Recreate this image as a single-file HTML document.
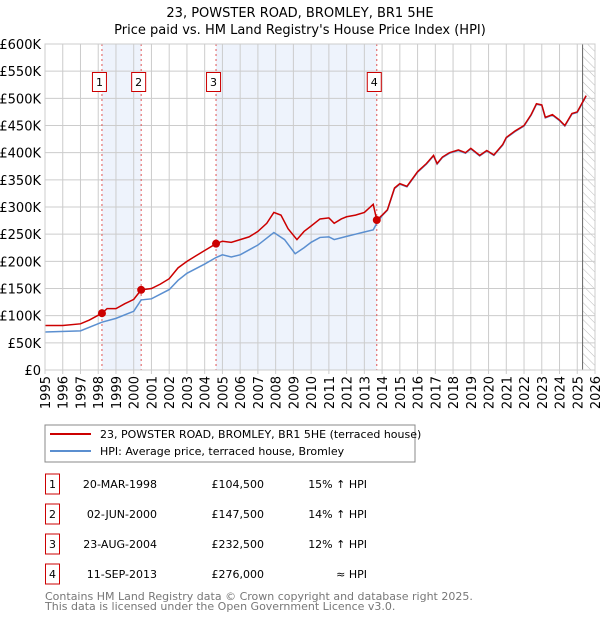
<!DOCTYPE html>
<html><head><meta charset="utf-8"><style>
body{margin:0;background:#fff;font-family:"DejaVu Sans","Liberation Sans",sans-serif;}
svg text{font-family:"DejaVu Sans","Liberation Sans",sans-serif;}
</style></head><body>
<svg id="chart" width="600" height="620" xmlns="http://www.w3.org/2000/svg">
<defs><pattern id="hatch" width="6" height="6" patternUnits="userSpaceOnUse" patternTransform="rotate(-45)"><line x1="0" y1="0" x2="0" y2="6" stroke="#bbb" stroke-width="1"/></pattern></defs>
<text x="300" y="17" text-anchor="middle" font-size="13">23, POWSTER ROAD, BROMLEY, BR1 5HE</text>
<text x="300" y="34" text-anchor="middle" font-size="13">Price paid vs. HM Land Registry's House Price Index (HPI)</text>
<g id="plot"></g>
<g>
<rect x="45" y="425" width="370" height="37" fill="#fff" stroke="#888"/>
<line x1="50" y1="434" x2="91" y2="434" stroke="#cc0000" stroke-width="2"/>
<text x="100" y="438" font-size="11">23, POWSTER ROAD, BROMLEY, BR1 5HE (terraced house)</text>
<line x1="50" y1="451" x2="91" y2="451" stroke="#5b8fd0" stroke-width="2"/>
<text x="100" y="455" font-size="11">HPI: Average price, terraced house, Bromley</text>
</g>
<g id="table"></g>
<text x="45" y="600" font-size="11" fill="#777">Contains HM Land Registry data © Crown copyright and database right 2025.</text>
<text x="45" y="610" font-size="11" fill="#777">This data is licensed under the Open Government Licence v3.0.</text>
</svg>
<script>
const redYears=[1995,1996,1997,1997.5,1998.21,1998.5,1999,1999.5,2000,2000.42,2001,2001.5,2002,2002.5,2003,2003.5,2004,2004.64,2005,2005.5,2006,2006.5,2007,2007.5,2007.9,2008.3,2008.7,2009.2,2009.6,2010,2010.5,2011,2011.3,2011.7,2012,2012.5,2013,2013.5,2013.7,2014,2014.3,2014.7,2015,2015.4,2016,2016.5,2016.9,2017.1,2017.4,2017.8,2018.3,2018.7,2019,2019.5,2019.9,2020.3,2020.8,2021,2021.5,2022,2022.4,2022.7,2023,2023.2,2023.6,2024,2024.3,2024.7,2025,2025.5];
const redVals=[82,82,85,92,104.5,113,113,122,130,147.5,150,158,168,188,200,210,220,232.5,237,235,240,245,255,270,290,285,260,240,255,265,278,280,270,278,282,285,290,305,276,285,295,335,343,338,365,380,395,380,392,400,405,400,408,395,404,396,415,428,440,450,470,490,488,465,470,460,450,472,475,505];
const hpiYears=[1995,1997,1998.21,1999,2000,2000.42,2001,2002,2002.5,2003,2004,2004.64,2005,2005.5,2006,2007,2007.9,2008.5,2009.1,2009.6,2010,2010.5,2011,2011.3,2012,2012.5,2013,2013.5,2013.7,2014,2014.3,2014.7,2015,2015.4,2016,2016.5,2016.9,2017.1,2017.4,2017.8,2018.3,2018.7,2019,2019.5,2019.9,2020.3,2020.8,2021,2021.5,2022,2022.4,2022.7,2023,2023.2,2023.6,2024,2024.3,2024.7,2025,2025.5];
const hpiVals=[70,72,88,95,108,129,131,148,165,178,195,207,212,208,212,230,253,240,214,225,235,244,245,240,246,250,254,258,270,284,294,334,342,337,364,379,394,379,391,399,404,399,407,394,403,395,414,427,439,449,469,489,487,464,469,459,449,471,474,504];
const saleYears=[1998.21,2000.42,2004.64,2013.7];
const saleVals=[104.5,147.5,232.5,276];
const saleLabels=["1","2","3","4"];
const saleDates=["20-MAR-1998","02-JUN-2000","23-AUG-2004","11-SEP-2013"];
const salePrices=["£104,500","£147,500","£232,500","£276,000"];
const saleHpi=["15% ↑ HPI","14% ↑ HPI","12% ↑ HPI","≈ HPI"];
const yTicks=[0,50,100,150,200,250,300,350,400,450,500,550,600];
const yTickLabels=["£0","£50K","£100K","£150K","£200K","£250K","£300K","£350K","£400K","£450K","£500K","£550K","£600K"];
const xTicks=[1995,1996,1997,1998,1999,2000,2001,2002,2003,2004,2005,2006,2007,2008,2009,2010,2011,2012,2013,2014,2015,2016,2017,2018,2019,2020,2021,2022,2023,2024,2025,2026];
const NS="http://www.w3.org/2000/svg";
const L=45,R=595,T=44,B=370;
const xs=y=>L+(y-1995)/31*(R-L);
const ys=v=>B-v/600*(B-T);
const plot=document.getElementById('plot');
function mk(tag,attrs,parent){const e=document.createElementNS(NS,tag);for(const k in attrs)e.setAttribute(k,attrs[k]);(parent||plot).appendChild(e);return e;}
[[0,1],[2,3]].forEach(p=>{const r=mk('rect',{x:xs(saleYears[p[0]]),y:T,width:xs(saleYears[p[1]])-xs(saleYears[p[0]]),height:B-T,fill:'#eef3fc'});

});
const h=mk('rect',{x:xs(2025.3),y:T,width:R-xs(2025.3),height:B-T,fill:'url(#hatch)'});


yTicks.forEach((v,i)=>{const g=mk('line',{x1:L,x2:R,y1:ys(v),y2:ys(v),stroke:'#ccc'});


const t=mk('text',{x:L-4,y:ys(v)+5,'text-anchor':'end','font-size':'13'});t.textContent=yTickLabels[i];

});
xTicks.forEach(y=>{const g=mk('line',{x1:xs(y),x2:xs(y),y1:T,y2:B+4,stroke:'#ccc'});


const t=mk('text',{x:0,y:0,'text-anchor':'end','font-size':'13','transform':`translate(${xs(y)+5},${B+6}) rotate(-90)`});t.textContent=y;

});
const vl=mk('line',{x1:xs(2025.3),x2:xs(2025.3),y1:T,y2:B,stroke:'#666'});


saleYears.forEach((y,i)=>{const d=mk('line',{x1:xs(y),x2:xs(y),y1:T,y2:B,stroke:'#e05555','stroke-dasharray':'2,3'});


const bx=mk('rect',{x:xs(y)-9.5,y:72.5,width:14,height:19,fill:'#fff',stroke:'#cc0000'});


const t=mk('text',{x:xs(y)-2.5,y:86,'text-anchor':'middle','font-size':'11'});t.textContent=saleLabels[i];

});
const hp=mk('polyline',{points:hpiYears.map((y,i)=>xs(y)+','+ys(hpiVals[i])).join(' '),fill:'none',stroke:'#5b8fd0','stroke-width':1.5});


const rp=mk('polyline',{points:redYears.map((y,i)=>xs(y)+','+ys(redVals[i])).join(' '),fill:'none',stroke:'#cc0000','stroke-width':1.5});


saleYears.forEach((y,i)=>{const c=mk('circle',{cx:xs(y),cy:ys(saleVals[i]),r:4,fill:'#cc0000'});

});
const fr=mk('rect',{x:L,y:T,width:R-L,height:B-T,fill:'none',stroke:'#ccc'});


const tb=document.getElementById('table');
saleLabels.forEach((lab,i)=>{const cy=484+i*30;
const b=mk('rect',{x:45.5,y:cy-10,width:14,height:20,fill:'#fff',stroke:'#cc0000'},tb);


const cells=[[52.5,'middle',lab],[157,'end',saleDates[i]],[264,'end',salePrices[i]],[367,'end',saleHpi[i]]];
cells.forEach(c=>{const t=mk('text',{x:c[0],y:cy+4,'text-anchor':c[1],'font-size':'11'},tb);t.textContent=c[2];

});});
</script>
</body></html>
